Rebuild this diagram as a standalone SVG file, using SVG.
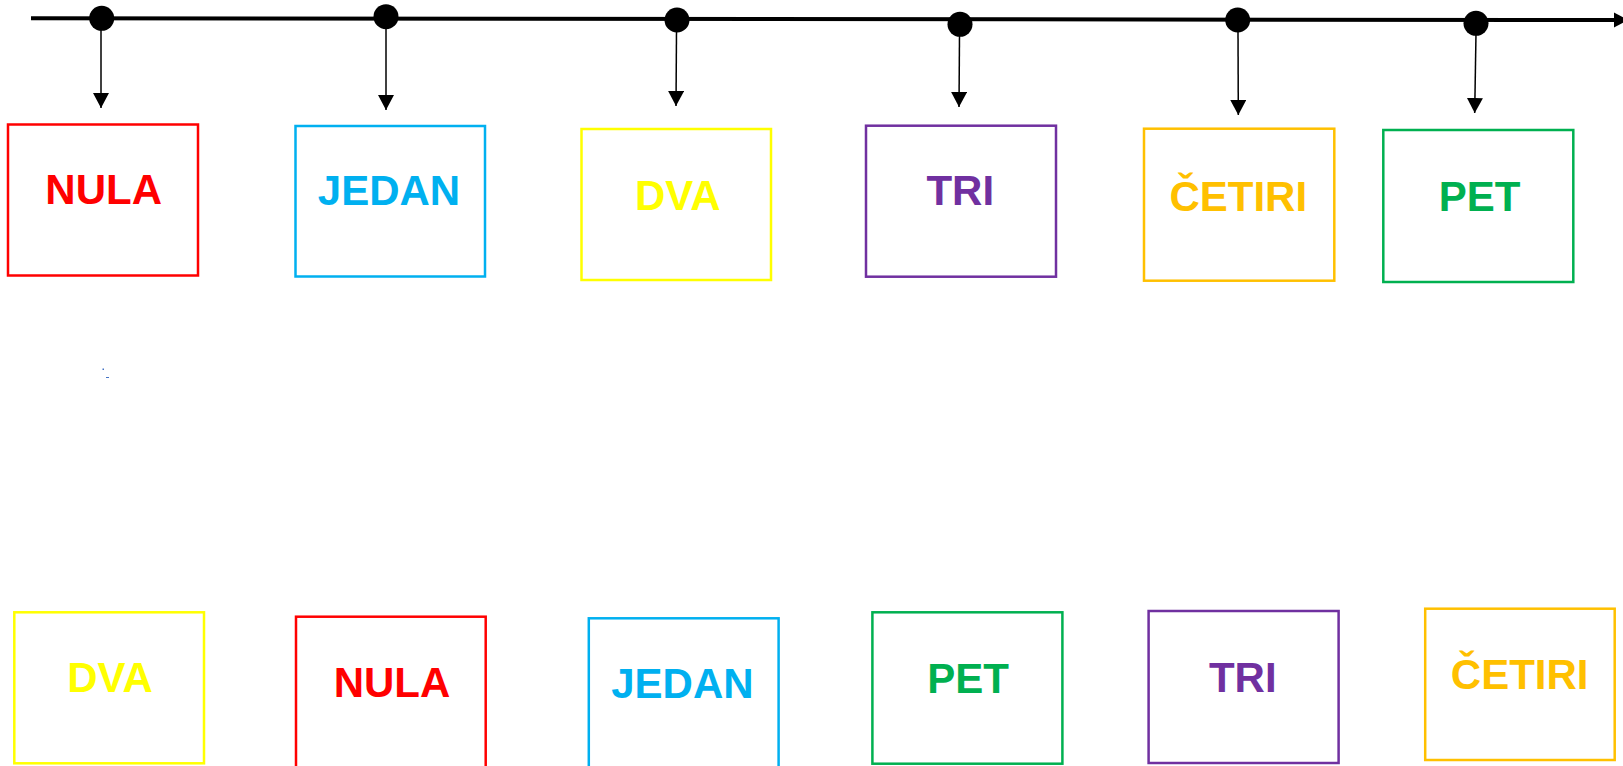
<svg xmlns="http://www.w3.org/2000/svg" width="1623" height="766" viewBox="0 0 1623 766">
<defs>
<marker id="ah" markerUnits="userSpaceOnUse" markerWidth="16" markerHeight="16" viewBox="0 0 16 16" refX="15" refY="8" orient="auto">
<path d="M0,0 L15,8 L0,16 Z" fill="#000"/>
</marker>
</defs>
<style>
.box{fill:#fff;stroke-width:2.5}
.lbl{font-family:"Liberation Sans",Arial,sans-serif;font-weight:bold;font-size:42px;text-anchor:middle}
.conn{stroke:#000;stroke-width:1.5;fill:none}
.dot{fill:#000}
</style>
<rect width="1623" height="766" fill="#fff"/>
<g id="axis">
<line x1="31" y1="18.3" x2="1616" y2="20" stroke="#000" stroke-width="4"/>
<path d="M1614,12.5 L1628,20 L1614,27.5 Z" fill="#000"/>
</g>
<g id="connectors">
<line class="conn" x1="101" y1="28" x2="101" y2="108" marker-end="url(#ah)"/>
<line class="conn" x1="386" y1="27" x2="386" y2="110" marker-end="url(#ah)"/>
<line class="conn" x1="676.5" y1="30" x2="676" y2="106" marker-end="url(#ah)"/>
<line class="conn" x1="959.5" y1="34" x2="959" y2="107" marker-end="url(#ah)"/>
<line class="conn" x1="1238" y1="30" x2="1238.3" y2="115" marker-end="url(#ah)"/>
<line class="conn" x1="1476" y1="33" x2="1474.7" y2="113" marker-end="url(#ah)"/>
</g>
<g id="dots">
<circle class="dot" cx="101.7" cy="18.3" r="12.5"/>
<circle class="dot" cx="386" cy="16.7" r="12.5"/>
<circle class="dot" cx="677" cy="20" r="12.5"/>
<circle class="dot" cx="960" cy="24.3" r="12.5"/>
<circle class="dot" cx="1237.7" cy="20" r="12.5"/>
<circle class="dot" cx="1476" cy="23.3" r="12.5"/>
</g>
<g id="top-nula"><rect class="box" x="8" y="124.5" width="190" height="151" stroke="#FF0000"/><text class="lbl" x="103.7" y="204" fill="#FF0000">NULA</text></g>
<g id="top-jedan"><rect class="box" x="295.5" y="126" width="189.5" height="150.5" stroke="#00B0F0"/><text class="lbl" x="389" y="205" fill="#00B0F0">JEDAN</text></g>
<g id="top-dva"><rect class="box" x="581.5" y="129" width="189.5" height="151" stroke="#FFFF00"/><text class="lbl" x="677.8" y="210" fill="#FFFF00">DVA</text></g>
<g id="top-tri"><rect class="box" x="866" y="125.7" width="190" height="151" stroke="#7030A0"/><text class="lbl" x="960.3" y="205" fill="#7030A0">TRI</text></g>
<g id="top-cetiri"><rect class="box" x="1144" y="128.7" width="190.3" height="152" stroke="#FFC000"/><text class="lbl" x="1238.3" y="210.7" fill="#FFC000">ČETIRI</text></g>
<g id="top-pet"><rect class="box" x="1383.3" y="130" width="190" height="152" stroke="#00B050"/><text class="lbl" x="1479.5" y="210.7" fill="#00B050">PET</text></g>
<g id="marks"><rect x="102.5" y="368.5" width="1.5" height="1.5" fill="#4472C4"/><rect x="106" y="377" width="3" height="1" fill="#4472C4"/></g>
<g id="bot-dva"><rect class="box" x="14.3" y="612.3" width="189.7" height="151" stroke="#FFFF00"/><text class="lbl" x="110" y="691.7" fill="#FFFF00">DVA</text></g>
<g id="bot-nula"><rect class="box" x="296" y="616.7" width="189.7" height="160" stroke="#FF0000"/><text class="lbl" x="392" y="697.3" fill="#FF0000">NULA</text></g>
<g id="bot-jedan"><rect class="box" x="588.8" y="618.3" width="189.8" height="160" stroke="#00B0F0"/><text class="lbl" x="682.4" y="698.3" fill="#00B0F0">JEDAN</text></g>
<g id="bot-pet"><rect class="box" x="872.4" y="612.3" width="190" height="151.4" stroke="#00B050"/><text class="lbl" x="968" y="693.3" fill="#00B050">PET</text></g>
<g id="bot-tri"><rect class="box" x="1148.6" y="611" width="190" height="152" stroke="#7030A0"/><text class="lbl" x="1242.8" y="692.3" fill="#7030A0">TRI</text></g>
<g id="bot-cetiri"><rect class="box" x="1425.2" y="608.7" width="189.5" height="151.3" stroke="#FFC000"/><text class="lbl" x="1519.7" y="689.3" fill="#FFC000">ČETIRI</text></g>
</svg>
